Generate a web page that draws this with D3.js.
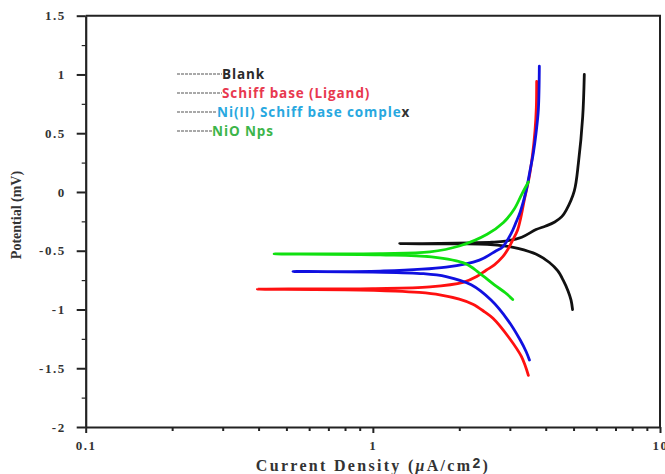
<!DOCTYPE html>
<html>
<head>
<meta charset="utf-8">
<script src="https://cdn.jsdelivr.net/npm/d3@7"></script>
<style>
body { margin: 0; background: #fff; }
svg { display: block; }
.axis text { font-family: "Liberation Serif", "Times New Roman", serif; font-weight: bold; font-size: 13px; fill: #333; letter-spacing: 1.5px; }
.axis path, .axis line { stroke: #222; }
.title { font-family: "Liberation Serif", "Times New Roman", serif; font-weight: bold; fill: #333; }
.legend text { font-family: "Open Sans", "Noto Sans", sans-serif; font-weight: bold; font-size: 13.5px; letter-spacing: 0.9px; }
</style>
</head>
<body>
<div id="main"></div>
<script>
// [current density (uA/cm2), potential]
var blankAnodic = [[1.24,-0.44],[1.7,-0.438],[2.2,-0.433],[2.6,-0.428],[2.9,-0.418],[3.3,-0.385],[3.7,-0.32],[4.0,-0.29],[4.3,-0.255],[4.55,-0.21],[4.71,-0.156],[5.03,0.01],[5.2,0.25],[5.38,0.64],[5.45,1.0]];
var blankCathodic = [[1.24,-0.44],[2.0,-0.442],[2.5,-0.446],[2.9,-0.46],[3.2,-0.48],[3.71,-0.53],[4.12,-0.6],[4.4,-0.67],[4.6,-0.75],[4.78,-0.84],[4.9,-0.92],[4.96,-1.0]];

var ligandAnodic = [[0.396,-0.827],[1.0,-0.822],[1.58,-0.808],[2.06,-0.77],[2.3,-0.72],[2.48,-0.666],[2.65,-0.62],[2.83,-0.553],[2.95,-0.49],[3.07,-0.41],[3.19,-0.326],[3.26,-0.24],[3.38,-0.05],[3.5,0.12],[3.6,0.32],[3.67,0.52],[3.71,0.72],[3.72,0.94]];
var ligandCathodic = [[0.396,-0.827],[0.8,-0.832],[1.2,-0.843],[1.45,-0.855],[1.71,-0.875],[2.0,-0.912],[2.23,-0.955],[2.45,-1.02],[2.62,-1.075],[2.99,-1.245],[3.29,-1.40],[3.48,-1.56]];

var complexAnodic = [[0.527,-0.677],[1.06,-0.673],[1.8,-0.64],[2.35,-0.58],[2.69,-0.5],[2.83,-0.468],[3.03,-0.354],[3.15,-0.26],[3.26,-0.17],[3.42,0.014],[3.52,0.17],[3.62,0.33],[3.7,0.5],[3.77,0.7],[3.8,1.07]];
var complexCathodic = [[0.527,-0.677],[1.0,-0.682],[1.5,-0.695],[1.8,-0.72],[2.2,-0.79],[2.58,-0.92],[2.95,-1.09],[3.26,-1.26],[3.42,-1.36],[3.51,-1.43]];

var nioAnodic = [[0.453,-0.527],[1.06,-0.524],[1.58,-0.51],[2.0,-0.46],[2.5,-0.36],[2.85,-0.26],[3.1,-0.15],[3.3,-0.02],[3.48,0.085]];
var nioCathodic = [[0.453,-0.527],[1.06,-0.535],[1.6,-0.553],[2.1,-0.61],[2.35,-0.69],[2.65,-0.79],[2.9,-0.86],[3.07,-0.915]];

var seriesNames = ["Blank", "Schiff base (Ligand)", "Ni(II) Schiff base complex", "NiO Nps"];
var lineColors = ["#111111", "#ff1010", "#1010e0", "#10e010"];
var labelColors = ["#2a2a2a", "#e8384f", "#28a8e0", "#3cb54a"];

var xMajor = [0.1, 1, 10];
var xTickLabels = ["0.1", "1", "10"];
var xMinor = [0.2,0.3,0.4,0.5,0.6,0.7,0.8,0.9,2,3,4,5,6,7,8,9];
var yMajor = [1.5, 1, 0.5, 0, -0.5, -1, -1.5, -2];
var yTickLabels = ["1.5", "1", "0.5", "0", "-0.5", "-1", "-1.5", "-2"];
var yMinor = [1.25, 0.75, 0.25, -0.25, -0.75, -1.25, -1.75];

var width = 665,
  height = 474;

var svg = d3.select('#main').append("svg")
  .attr("width", width)
  .attr("height", height);

var x = d3.scaleLog().domain([0.1, 10]).range([85.7, 660]);
var y = d3.scaleLinear().domain([-2, 1.5]).range([427, 15.7]);

// frame (top + right)
svg.append("path")
  .attr("d", "M" + x(0.1) + "," + y(1.5) + "H" + x(10) + "V" + y(-2))
  .attr("fill", "none")
  .attr("stroke", "#222")
  .attr("stroke-width", 2);

// minor ticks first
svg.append("g").attr("class", "axis")
  .attr("transform", "translate(0," + y(-2) + ")")
  .call(d3.axisBottom(x).tickValues(xMinor).tickSize(4).tickFormat(""))
  .call(function (g) { g.select(".domain").remove(); })
  .selectAll("line").attr("stroke-width", 2);

svg.append("g").attr("class", "axis")
  .attr("transform", "translate(" + x(0.1) + ",0)")
  .call(d3.axisLeft(y).tickValues(yMinor).tickSize(4).tickFormat(""))
  .call(function (g) { g.select(".domain").remove(); })
  .selectAll("line").attr("stroke-width", 1.2);

var xAxis = svg.append("g").attr("class", "axis")
  .attr("transform", "translate(0," + y(-2) + ")")
  .call(d3.axisBottom(x).tickValues(xMajor).tickSize(6).tickSizeOuter(0).tickPadding(8)
    .tickFormat(function (d, i) { return xTickLabels[i]; }));
xAxis.select(".domain").attr("stroke-width", 2.2);
xAxis.selectAll("line").attr("stroke-width", 2);

var yAxis = svg.append("g").attr("class", "axis")
  .attr("transform", "translate(" + x(0.1) + ",0)")
  .call(d3.axisLeft(y).tickValues(yMajor).tickSize(9).tickSizeOuter(0).tickPadding(11)
    .tickFormat(function (d, i) { return yTickLabels[i]; }));
yAxis.select(".domain").attr("stroke-width", 2.2);
yAxis.selectAll("line").attr("stroke-width", 2);

// axis titles
svg.append("text")
  .attr("class", "title")
  .attr("font-size", 14)
  .attr("transform", "translate(21,215) rotate(-90)")
  .attr("text-anchor", "middle")
  .text("Potential (mV)");

var xt = svg.append("text")
  .attr("class", "title")
  .attr("font-size", 16)
  .attr("letter-spacing", "2.3px")
  .attr("x", 373)
  .attr("y", 471)
  .attr("text-anchor", "middle");
xt.append("tspan").text("Current Density (");
xt.append("tspan").attr("font-style", "italic").text("μ");
xt.append("tspan").text("A/cm");
xt.append("tspan").attr("dy", -3).attr("font-family", "'Liberation Sans', Arial, sans-serif").attr("font-size", 14).text("2");
xt.append("tspan").attr("dy", 3).text(")");

// curves: cathodic branch reversed then anodic branch
var curves = [
  blankCathodic.slice().reverse().concat(blankAnodic.slice(1)),
  ligandCathodic.slice().reverse().concat(ligandAnodic.slice(1)),
  complexCathodic.slice().reverse().concat(complexAnodic.slice(1)),
  nioCathodic.slice().reverse().concat(nioAnodic.slice(1))
];

var line = d3.line()
  .x(function (d) { return x(d[0]); })
  .y(function (d) { return y(d[1]); })
  .curve(d3.curveCatmullRom.alpha(0.5));

svg.append("g").selectAll("path")
  .data(curves)
  .enter().append("path")
  .attr("d", line)
  .attr("fill", "none")
  .attr("stroke", function (d, i) { return lineColors[i]; })
  .attr("stroke-width", 2.8)
  .attr("stroke-linecap", "round")
  .attr("stroke-linejoin", "round");

// legend
var legendY = [74, 93, 112, 131];
var dashEnd = [222, 222, 217, 212];
var lg = svg.append("g").attr("class", "legend");
lg.selectAll("line")
  .data(seriesNames)
  .enter().append("line")
  .attr("x1", 177)
  .attr("x2", function (d, i) { return dashEnd[i]; })
  .attr("y1", function (d, i) { return legendY[i]; })
  .attr("y2", function (d, i) { return legendY[i]; })
  .attr("stroke", "#555")
  .attr("stroke-width", 1.2)
  .attr("stroke-dasharray", "3,1");

lg.selectAll("text")
  .data(seriesNames)
  .enter().append("text")
  .attr("x", function (d, i) { return dashEnd[i]; })
  .attr("y", function (d, i) { return legendY[i] + 5; })
  .attr("fill", function (d, i) { return labelColors[i]; })
  .each(function (d, i) {
    var t = d3.select(this);
    if (i === 2) {
      t.append("tspan").text(d.slice(0, -1));
      t.append("tspan").attr("fill", "#333").text(d.slice(-1));
    } else {
      t.text(d);
    }
  });
</script>
</body>
</html>
